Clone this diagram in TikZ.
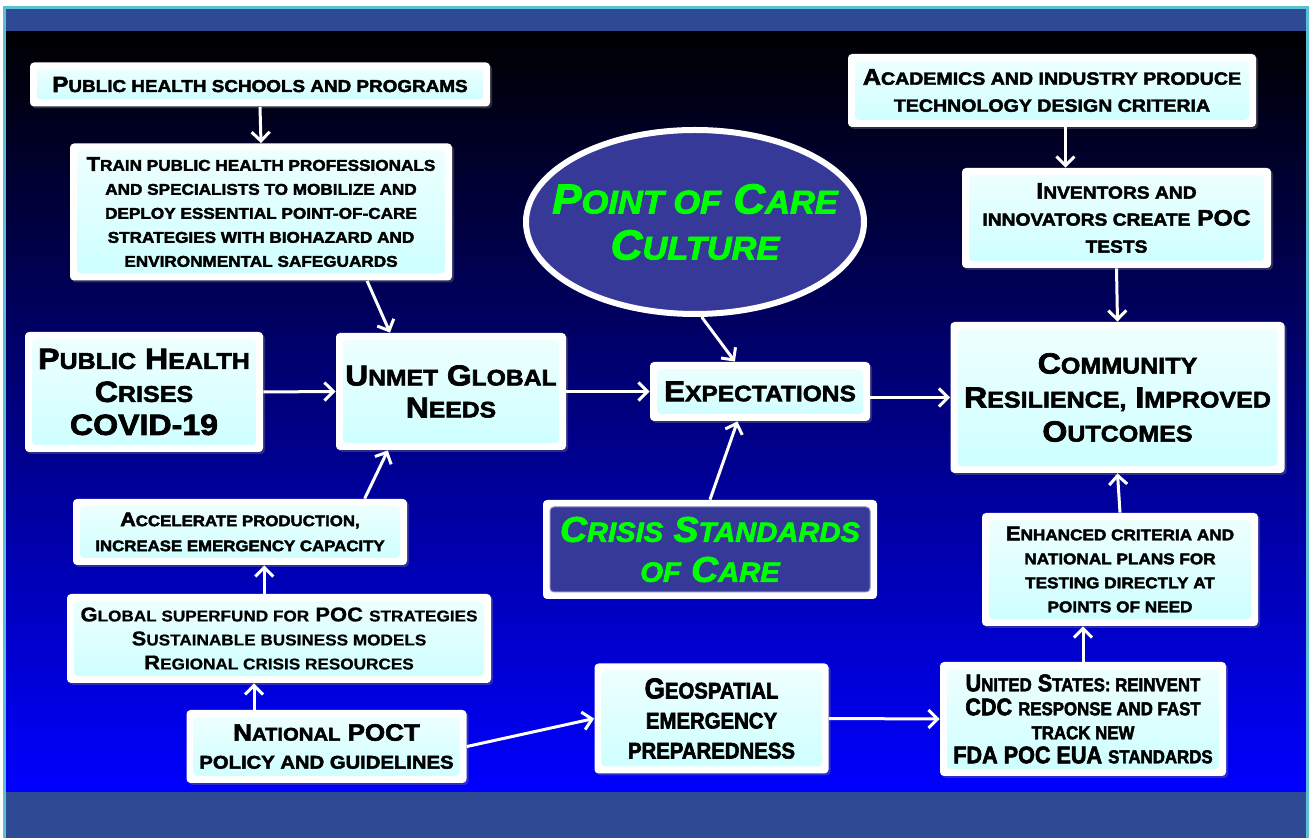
\documentclass[tikz,border=0pt]{standalone}
\usepackage{fontspec}
\usetikzlibrary{arrows.meta, shapes.geometric, shadows}
\newfontfamily\boxfont{Liberation Sans}[BoldFeatures={FakeBold=2.5, FakeStretch=1.1},
  BoldItalicFeatures={FakeBold=2.5, FakeStretch=1.05}]
\newfontfamily\narrowfont{Liberation Sans}[BoldFeatures={FakeBold=2.5, FakeStretch=0.9}]
\newfontfamily\plainfont{Liberation Sans}[BoldFeatures={FakeBold=0.8, FakeStretch=1.1}]
\definecolor{band}{RGB}{47,74,148}
\definecolor{frame}{RGB}{91,192,214}
\definecolor{panel}{RGB}{55,57,153}
\definecolor{pocgreen}{RGB}{0,255,0}
\definecolor{paneltop}{RGB}{240,255,255}
\definecolor{panelbot}{RGB}{204,255,255}
% fake small caps: lower case letters as smaller capitals
\makeatletter
\newcommand\sm[1]{{\@tempdima=\f@size pt\@tempdima=.78\@tempdima
  \fontsize{\strip@pt\@tempdima}{\strip@pt\@tempdima}\selectfont\MakeUppercase{#1}}}
\makeatother

\begin{document}
\begin{tikzpicture}[x=0.5pt, y=-0.5pt,
    sized/.style 2 args={minimum width={#1*0.5pt}, minimum height={#2*0.5pt}},
    box/.style={fill=white, rounded corners=2pt, align=center, inner sep=0pt, text=black,
      drop shadow={opacity=0.35, shadow xshift=1pt, shadow yshift=-1pt},
      path picture={\shade[top color=paneltop, bottom color=panelbot]
        ([shift={(3.5pt,-3.5pt)}]path picture bounding box.north west) rectangle
        ([shift={(-3.5pt,3.5pt)}]path picture bounding box.south east);}},
    darkbox/.style={fill=white, rounded corners=2pt, align=center, inner sep=0pt, text=pocgreen,
      path picture={\fill[panel, draw=panel!60!white, line width=0.5pt]
        ([shift={(3.5pt,-3.5pt)}]path picture bounding box.north west) rectangle
        ([shift={(-3.5pt,3.5pt)}]path picture bounding box.south east);}},
    arr/.style={draw=white, line width=1.5pt, -{Straight Barb[length=4.5pt, width=9pt]}}]

  % background and bands
  \useasboundingbox (0,0) rectangle (1312,838);
  \fill[white] (0,0) rectangle (1312,838);
  \shade[top color=black, middle color={rgb,255:red,0;green,0;blue,150}, bottom color=blue]
    (6,31) rectangle (1306,792);
  \fill[band] (6,9) rectangle (1306,31);
  \fill[band] (6,792) rectangle (1306,838);
  \draw[frame, line width=1.5pt] (4.5,840) |- (1307.5,8) -- (1307.5,840);

  % left column
  \node[box, sized={460}{44}, font=\boxfont\bfseries\fontsize{11}{13}\selectfont] (phs) at (260,84.5)
    {P\sm{ublic health schools and programs}};
  \node[box, sized={382}{137}, font=\boxfont\bfseries\fontsize{10}{12}\selectfont] (train) at (261,212)
    {T\sm{rain public health professionals}\\ \sm{and specialists to mobilize and}\\
     \sm{deploy essential point-of-care}\\ \sm{strategies with biohazard and}\\
     \sm{environmental safeguards}};
  \node[box, sized={238}{120}, font=\boxfont\bfseries\fontsize{14.6}{16.5}\selectfont] (crises) at (144,392)
    {P\sm{ublic} H\sm{ealth}\\ C\sm{rises}\\ COVID-19};
  \node[box, sized={230}{117}, font=\boxfont\bfseries\fontsize{14.4}{16}\selectfont] (unmet) at (451,391.5)
    {U\sm{nmet} G\sm{lobal}\\ N\sm{eeds}};
  \node[box, sized={334}{66}, font=\boxfont\bfseries\fontsize{9.8}{12.5}\selectfont] (accel) at (240,532)
    {A\sm{ccelerate production,}\\ \sm{increase emergency capacity}};
  \node[box, sized={424}{89}, font=\plainfont\bfseries\fontsize{10}{12}\selectfont] (global) at (279,638.5)
    {G\sm{lobal superfund for} POC \sm{strategies}\\ S\sm{ustainable business models}\\
     R\sm{egional crisis resources}};
  \node[box, sized={280}{73}, font=\boxfont\bfseries\fontsize{11.8}{14}\selectfont] (natl) at (326.5,746.5)
    {N\sm{ational} POCT\\ \sm{policy and guidelines}};

  % middle
  \node[ellipse, fill=panel, draw=white, line width=3pt, inner sep=0pt, sized={338}{184},
    label={[text=pocgreen, align=center, font=\boxfont\bfseries\itshape\fontsize{21}{23}\selectfont]
      center:P\sm{oint of} C\sm{are}\\ C\sm{ulture}}] (poc) at (695,222) {};
  \node[box, sized={220}{59}, font=\boxfont\bfseries\fontsize{14.3}{16}\selectfont] (expect) at (760,391.5)
    {E\sm{xpectations}};
  \node[darkbox, sized={334}{99}, font=\boxfont\bfseries\itshape\fontsize{17.8}{20}\selectfont] (crisis) at (710,549.5)
    {C\sm{risis} S\sm{tandards}\\ \sm{of} C\sm{are}};
  \node[box, sized={234}{110}, font=\narrowfont\bfseries\fontsize{14.5}{15}\selectfont] (geo) at (711.5,718.5)
    {G\sm{eospatial}\\ \sm{emergency}\\ \sm{preparedness}};

  % right column
  \node[box, sized={408}{73}, font=\boxfont\bfseries\fontsize{11.4}{13.5}\selectfont] (acad) at (1052,90.5)
    {A\sm{cademics and industry produce}\\ \sm{technology design criteria}};
  \node[box, sized={309}{100}, font=\boxfont\bfseries\fontsize{11.2}{13.5}\selectfont] (inv) at (1116.5,218)
    {I\sm{nventors and}\\ \sm{innovators create} POC\\ \sm{tests}};
  \node[box, sized={334}{151}, font=\boxfont\bfseries\fontsize{14.6}{17}\selectfont] (comm) at (1117.5,397.5)
    {C\sm{ommunity}\\ R\sm{esilience,} I\sm{mproved}\\ O\sm{utcomes}};
  \node[box, sized={276}{113}, font=\boxfont\bfseries\fontsize{10}{12}\selectfont] (enh) at (1120,569.5)
    {E\sm{nhanced criteria and}\\ \sm{national plans for}\\ \sm{testing directly at}\\ \sm{points of need}};
  \node[box, sized={286}{114}, font=\narrowfont\bfseries\fontsize{12}{12}\selectfont] (us) at (1083,719)
    {U\sm{nited} S\sm{tates: reinvent}\\ CDC \sm{response and fast}\\ \sm{track new}\\
     FDA POC EUA \sm{standards}};

  % connectors
  \draw[arr] (phs.south) -- (train.north);
  \draw[arr] (train.-33) -- (unmet.136);
  \draw[arr] (crises.east) -- (unmet.west);
  \draw[arr] (accel.15) -- (unmet.223);
  \draw[arr] (global.north -| accel.-54) -- (accel.-54);
  \draw[arr] (natl.153) -- (global.south -| natl.153);
  \draw[arr] (natl.east) -- (geo.west);
  \draw[arr] (geo.east) -- (us.west);
  \draw[arr] (us.north) -- (us.north |- enh.south);
  \draw[arr] (enh.north) -- (comm.south);
  \draw[arr] (acad.-70) -- (inv.north -| acad.-70);
  \draw[arr] (inv.south) -- (comm.north);
  \draw[arr] (unmet.east) -- (expect.west);
  \draw[arr] (expect.east |- comm.west) -- (comm.west);
  \draw[arr] (poc.-86) -- (expect.130);
  \draw[arr] (crisis.north) -- (expect.233);

\end{tikzpicture}
\end{document}
